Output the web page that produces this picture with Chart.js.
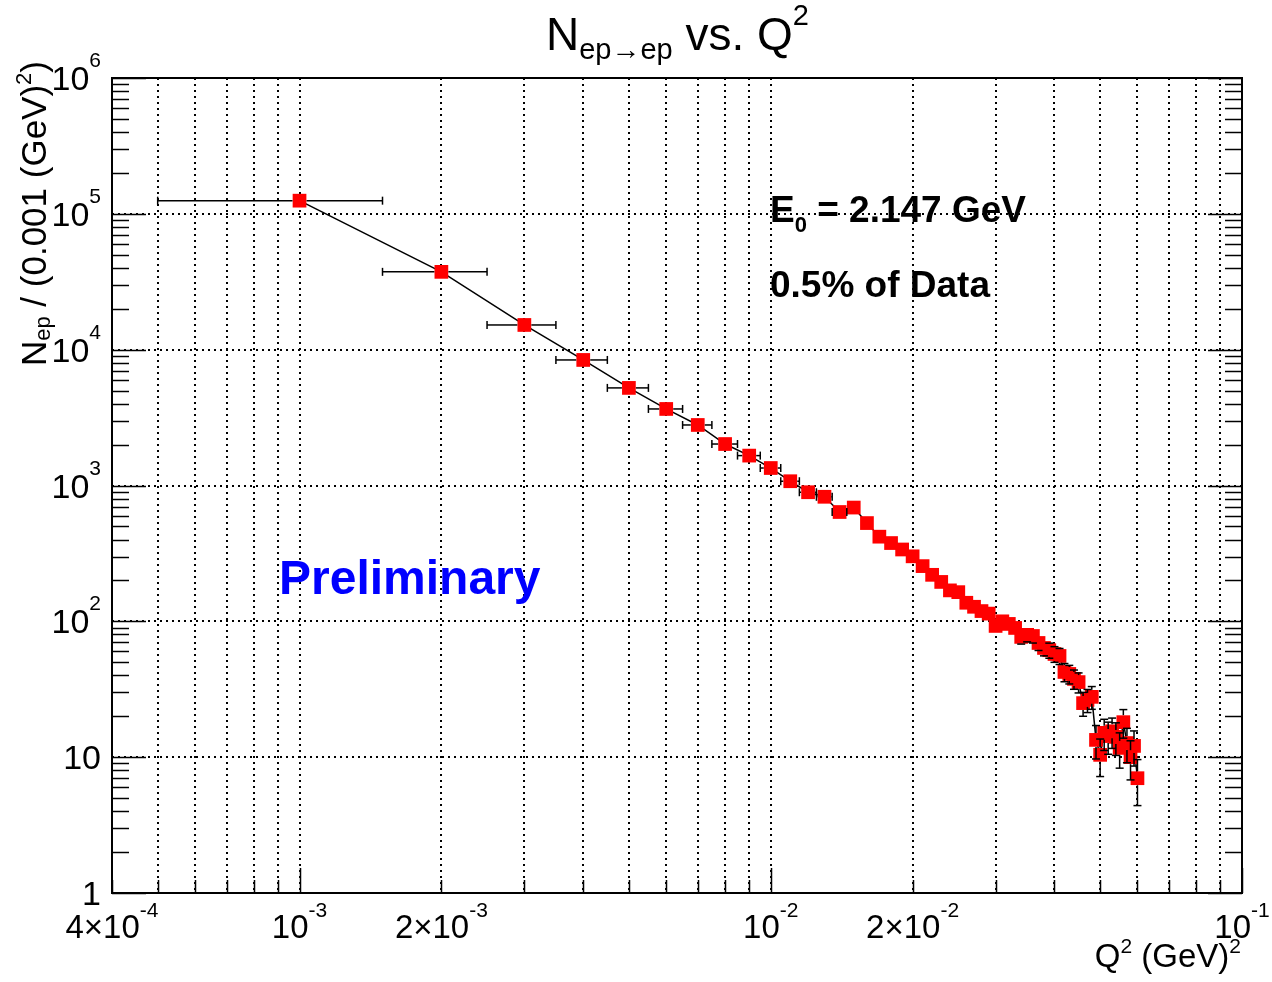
<!DOCTYPE html>
<html><head><meta charset="utf-8">
<script src="https://cdn.jsdelivr.net/npm/chart.js@4.4.1/dist/chart.umd.min.js"></script>
<style>html,body{margin:0;padding:0;background:#fff;}#wrap{width:1272px;height:982px;}</style>
</head><body><div id="wrap"><canvas id="c" width="1272" height="982"></canvas></div>
<script>
// ---- data ----
const q2Values = [0.001,0.002,0.003,0.004,0.005,0.006,0.007,0.008,0.009,0.010,
  0.011,0.012,0.013,0.014,0.015,0.016,0.017,0.018,0.019,0.020,
  0.021,0.022,0.023,0.024,0.025,0.026,0.027,0.028,0.029,0.030,
  0.031,0.032,0.033,0.034,0.035,0.036,0.037,0.038,0.039,0.040,
  0.041,0.042,0.043,0.044,0.045,0.046,0.047,0.048,0.049,0.050,
  0.051,0.052,0.053,0.054,0.055,0.056,0.057,0.058,0.059,0.060];
const nepValues = [125000,37400,15200,8400,5230,3660,2790,2020,1660,1345,
  1075,892,826,638,688,529,420,377,338,301,
  255,220,195,169,164,137,128,119,114,92.5,
  100,95.7,89.4,76.8,79.5,78,69.3,63.7,61.3,57.5,
  55.6,42.4,41,37.7,35.7,25,26.4,27.8,13.4,10.4,
  15.1,14.3,15.5,14.1,11.7,18.1,12.7,10.0,12.1,7.0];
const nepErrors = [354,193,123,92,72,60,53,45,41,37,
  33,30,29,25,26,23,20,19,18,17.3,
  16,14.8,14,13,12.8,11.7,11.3,10.9,10.7,9.6,
  10,9.8,9.5,8.8,8.9,8.8,8.3,8.0,7.8,7.6,
  7.5,6.5,6.4,6.1,6.0,5.0,5.1,5.3,3.7,3.2,
  3.9,3.8,3.9,3.8,3.4,4.3,3.6,3.2,3.5,2.6];
const q2BinHalfWidth = 0.0005;

const xTickValues = [4e-4, 1e-3, 2e-3, 1e-2, 2e-2, 1e-1];
const xTickBase   = ['4\u00d710', '10', '2\u00d710', '10', '2\u00d710', '10'];
const xTickExp    = ['-4', '-3', '-3', '-2', '-2', '-1'];
const yTickValues = [1, 10, 100, 1e3, 1e4, 1e5, 1e6];
const yTickBase   = ['1', '10', '10', '10', '10', '10', '10'];
const yTickExp    = ['', '', '2', '3', '4', '5', '6'];

const xMin = 4e-4, xMax = 0.1, yMin = 1, yMax = 1e6;

// grid / minor tick positions (log decades)
function logSteps(min, max) {
  const out = [];
  for (let e = Math.floor(Math.log10(min)); e <= Math.ceil(Math.log10(max)); e++) {
    for (let m = 1; m <= 9; m++) {
      const v = +(m * Math.pow(10, e)).toPrecision(6);
      if (v >= min * 0.9999 && v <= max * 1.0001) out.push({v, major: m === 1});
    }
  }
  return out;
}
const xSteps = logSteps(xMin, xMax);
const ySteps = logSteps(yMin, yMax);

const FONT = '"Liberation Sans", Arial, Helvetica, sans-serif';
function segFont(s) { return (s.bold ? 'bold ' : '') + s.size + 'px ' + FONT; }
function richWidth(ctx, segs) {
  let w = 0;
  for (const s of segs) { ctx.font = segFont(s); w += ctx.measureText(s.t).width + (s.gap || 0); }
  return w;
}
function drawRich(ctx, segs, x, y, align, color) {
  const w = richWidth(ctx, segs);
  let cx = align === 'center' ? x - w / 2 : (align === 'right' ? x - w : x);
  ctx.fillStyle = color || '#000';
  ctx.textAlign = 'left'; ctx.textBaseline = 'alphabetic';
  for (const s of segs) {
    ctx.font = segFont(s);
    ctx.fillText(s.t, cx, y + (s.dy || 0));
    cx += ctx.measureText(s.t).width + (s.gap || 0);
  }
}

const points = q2Values.map((q, i) => ({x: q, y: nepValues[i]}));

const errorBars = {
  id: 'errorBars',
  afterDatasetsDraw(chart) {
    const ctx = chart.ctx, xs = chart.scales.x, ys = chart.scales.y, a = chart.chartArea;
    const half = 7, cap = 4;
    ctx.save();
    ctx.beginPath(); ctx.rect(a.left, a.top, a.right - a.left, a.bottom - a.top); ctx.clip();
    ctx.strokeStyle = '#000'; ctx.lineWidth = 1.5;
    const line = (x1, y1, x2, y2) => { ctx.beginPath(); ctx.moveTo(x1, y1); ctx.lineTo(x2, y2); ctx.stroke(); };
    for (let i = 0; i < q2Values.length; i++) {
      const px = xs.getPixelForValue(q2Values[i]);
      const py = ys.getPixelForValue(nepValues[i]);
      const xl = xs.getPixelForValue(q2Values[i] - q2BinHalfWidth);
      const xr = xs.getPixelForValue(q2Values[i] + q2BinHalfWidth);
      const yt = ys.getPixelForValue(nepValues[i] + nepErrors[i]);
      const lo = nepValues[i] - nepErrors[i];
      const yb = lo > 0 ? ys.getPixelForValue(lo) : a.bottom;
      if (px - xl > half) { line(xl, py, px - half, py); line(xl, py - cap, xl, py + cap); }
      if (xr - px > half) { line(px + half, py, xr, py); line(xr, py - cap, xr, py + cap); }
      if (py - yt > half) { line(px, py - half, px, yt); line(px - cap, yt, px + cap, yt); }
      if (yb - py > half) { line(px, py + half, px, yb); line(px - cap, yb, px + cap, yb); }
    }
    ctx.restore();
  }
};

const frameAndText = {
  id: 'frameAndText',
  afterDraw(chart) {
    const ctx = chart.ctx, xs = chart.scales.x, ys = chart.scales.y, a = chart.chartArea;
    ctx.save();
    // ticks
    ctx.strokeStyle = '#000'; ctx.lineWidth = 1.5;
    for (const s of xSteps) {
      const px = Math.round(xs.getPixelForValue(s.v)) + 0.5;
      const len = s.major ? 25 : 13;
      ctx.beginPath(); ctx.moveTo(px, a.bottom); ctx.lineTo(px, a.bottom - len); ctx.stroke();
    }
    for (const s of ySteps) {
      const py = Math.round(ys.getPixelForValue(s.v)) + 0.5;
      const len = s.major ? 34 : 17;
      ctx.beginPath(); ctx.moveTo(a.left, py); ctx.lineTo(a.left + len, py); ctx.stroke();
      ctx.beginPath(); ctx.moveTo(a.right, py); ctx.lineTo(a.right - len, py); ctx.stroke();
    }
    // frame
    ctx.lineWidth = 2;
    ctx.strokeRect(a.left, a.top, a.right - a.left, a.bottom - a.top);

    // x tick labels
    for (let i = 0; i < xTickValues.length; i++) {
      const px = xs.getPixelForValue(xTickValues[i]);
      drawRich(ctx, [{t: xTickBase[i], size: 33}, {t: xTickExp[i], size: 21, dy: -21}], px, 938, 'center');
    }
    // y tick labels
    for (let i = 0; i < yTickValues.length; i++) {
      const py = ys.getPixelForValue(yTickValues[i]);
      const segs = [{t: yTickBase[i], size: 34}];
      if (yTickExp[i]) segs.push({t: yTickExp[i], size: 21, dy: -23});
      drawRich(ctx, segs, 101, py + 12, 'right');
    }
    // axis titles
    drawRich(ctx, [{t: 'Q', size: 33}, {t: '2', size: 21, dy: -14}, {t: ' (GeV)', size: 33}, {t: '2', size: 21, dy: -14}], 1241, 967, 'right');
    ctx.save(); ctx.translate(46, 61); ctx.rotate(-Math.PI / 2);
    drawRich(ctx, [{t: 'N', size: 35}, {t: 'ep', size: 22, dy: 4}, {t: ' / (0.001 (GeV)', size: 35}, {t: '2', size: 22, dy: -15}, {t: ')', size: 35}], 0, 0, 'right');
    ctx.restore();
    // main title
    drawRich(ctx, [{t: 'N', size: 46}, {t: 'ep\u2192ep', size: 29, dy: 9}, {t: ' vs. Q', size: 46}, {t: '2', size: 29, dy: -25}], 546, 50, 'left');
    // annotations
    drawRich(ctx, [{t: 'E', size: 37, bold: true}, {t: '0', size: 22, bold: true, dy: 10}, {t: ' = 2.147 GeV', size: 37, bold: true}], 770, 222, 'left');
    drawRich(ctx, [{t: '0.5% of Data', size: 37, bold: true}], 770, 297, 'left');
    drawRich(ctx, [{t: 'Preliminary', size: 48, bold: true}], 279, 594, 'left', '#0000ff');
    ctx.restore();
  }
};

new Chart(document.getElementById('c'), {
  type: 'scatter',
  data: {datasets: [{
    data: points,
    showLine: true,
    borderColor: '#000',
    borderWidth: 1.5,
    pointStyle: 'rect',
    pointRadius: 9.7,
    pointBackgroundColor: '#ff0000',
    pointBorderColor: '#ff0000',
    pointBorderWidth: 0,
    tension: 0
  }]},
  options: {
    responsive: false, animation: false, devicePixelRatio: 1,
    layout: {padding: {left: 112, right: 30, top: 78, bottom: 89}},
    plugins: {legend: {display: false}, tooltip: {enabled: false}, title: {display: false}},
    scales: {
      x: {
        type: 'logarithmic', min: xMin, max: xMax, bounds: 'data',
        afterBuildTicks: s => { s.ticks = xSteps.filter(t => t.v > xMin * 1.001 && t.v < xMax * 0.999).map(t => ({value: t.v})); },
        afterFit: s => { s.height = 0; },
        ticks: {display: false},
        grid: {color: '#000', lineWidth: 2, drawTicks: false},
        border: {display: false, dash: [2, 4]}
      },
      y: {
        type: 'logarithmic', min: yMin, max: yMax, bounds: 'data',
        afterBuildTicks: s => { s.ticks = yTickValues.filter(v => v > yMin && v < yMax).map(v => ({value: v})); },
        afterFit: s => { s.width = 0; },
        ticks: {display: false},
        grid: {color: '#000', lineWidth: 2, drawTicks: false},
        border: {display: false, dash: [2, 4]}
      }
    }
  },
  plugins: [errorBars, frameAndText]
});
</script></body></html>
